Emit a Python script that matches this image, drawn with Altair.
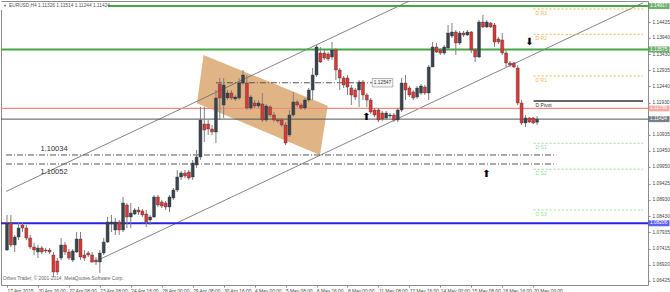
import altair as alt
import pandas as pd

# ---------------- candle data (EURUSD, H4), one entry per bar ----------------
opens = [1.07380,1.08214,1.07535,1.07782,1.08153,1.08060,1.07751,1.07473,1.07318,1.07442,
         1.07380,1.07380,1.07226,1.07040,1.07133,1.07535,1.07318,1.07071,1.07318,1.07720,
         1.07226,1.07287,1.07226,1.07071,1.07009,1.07287,1.07627,1.08183,1.07998,1.08245,
         1.07998,1.08771,1.08400,1.08492,1.08616,1.08585,1.08492,1.08307,1.08400,1.09018,
         1.08863,1.08832,1.08709,1.08987,1.09234,1.09636,1.09759,1.09790,1.09636,1.10007,
         1.10254,1.11273,1.11273,1.11119,1.11026,1.12509,1.11861,1.12077,1.12231,1.12046,
         1.12077,1.12540,1.12540,1.11768,1.11922,1.11830,1.11891,1.11397,1.11799,1.11552,
         1.11397,1.11397,1.11243,1.10934,1.11552,1.11953,1.11861,1.11768,1.12015,1.12324,
         1.12788,1.13467,1.13467,1.13436,1.13344,1.13560,1.12942,1.12695,1.12695,1.12386,
         1.12324,1.12324,1.12571,1.12170,1.12015,1.11706,1.11706,1.11613,1.11459,1.11521,
         1.11552,1.11397,1.11706,1.12540,1.12386,1.12262,1.12108,1.12231,1.12417,1.12231,
         1.13035,1.13653,1.13560,1.13467,1.13622,1.13993,1.14116,1.13776,1.14085,1.14024,
         1.14116,1.13560,1.13344,1.14425,1.14271,1.14394,1.14333,1.13900,1.13869,1.13467,
         1.13158,1.13158,1.13004,1.11922,1.11304,1.11459,1.11459,1.11326]
highs = [1.08462,1.08462,1.07844,1.08214,1.08245,1.08153,1.07844,1.07596,1.07535,1.07504,
         1.07442,1.07442,1.07318,1.07133,1.07751,1.07627,1.07411,1.07411,1.07936,1.07936,
         1.07380,1.07349,1.07318,1.07164,1.07380,1.07751,1.08400,1.08462,1.08369,1.08307,
         1.09018,1.08832,1.08832,1.08678,1.08709,1.08647,1.08616,1.08462,1.09080,1.09080,
         1.08925,1.08894,1.09080,1.09296,1.09852,1.09821,1.09852,1.09852,1.10161,1.10470,
         1.11799,1.11799,1.11397,1.11243,1.12324,1.12695,1.12695,1.12324,1.12324,1.12170,
         1.12695,1.12942,1.12788,1.12170,1.12015,1.12015,1.12231,1.11891,1.11861,1.11644,
         1.11459,1.11459,1.11335,1.11706,1.12262,1.12015,1.11922,1.12077,1.12386,1.13004,
         1.13715,1.13653,1.13560,1.13498,1.13807,1.13622,1.13004,1.12757,1.12788,1.12479,
         1.12386,1.12633,1.12633,1.12231,1.12077,1.11768,1.11768,1.11675,1.11675,1.11613,
         1.11613,1.11768,1.12695,1.12788,1.12448,1.12324,1.12448,1.12509,1.12479,1.13097,
         1.13807,1.13776,1.13622,1.13715,1.14333,1.14394,1.14178,1.14147,1.14147,1.14178,
         1.14147,1.13622,1.14487,1.14642,1.14487,1.14425,1.14394,1.13962,1.14085,1.13560,
         1.13220,1.13189,1.13097,1.12015,1.11552,1.11490,1.11490,1.11514]
lows = [1.07349,1.07473,1.07318,1.07689,1.07936,1.07689,1.07411,1.07226,1.07133,1.07256,
        1.07287,1.07256,1.06546,1.06608,1.07071,1.07226,1.07071,1.07009,1.07287,1.07071,
        1.07040,1.07164,1.06978,1.06917,1.06669,1.07226,1.07596,1.07936,1.07844,1.07844,
        1.07936,1.08060,1.08060,1.08462,1.08462,1.08400,1.08091,1.08153,1.08369,1.08709,
        1.08678,1.08616,1.08554,1.08925,1.09172,1.09543,1.09605,1.09543,1.09543,1.09914,
        1.10161,1.10717,1.10934,1.10934,1.10686,1.11397,1.11459,1.12015,1.12015,1.11984,
        1.12015,1.12479,1.11706,1.11706,1.11768,1.11768,1.11335,1.11335,1.11490,1.11335,
        1.11304,1.11181,1.10625,1.10872,1.11490,1.11799,1.11706,1.11706,1.11953,1.12015,
        1.12726,1.13158,1.13251,1.13220,1.13251,1.12633,1.12324,1.12386,1.12170,1.11861,
        1.12015,1.11799,1.12015,1.11799,1.11582,1.11490,1.11335,1.11366,1.11397,1.11459,
        1.11335,1.11335,1.11644,1.12015,1.12108,1.12015,1.12046,1.12170,1.12170,1.12015,
        1.13035,1.13467,1.13406,1.13406,1.13560,1.13931,1.13406,1.13715,1.13962,1.13993,
        1.13467,1.13189,1.13313,1.14240,1.14240,1.14240,1.13653,1.13745,1.13406,1.13035,
        1.13035,1.13004,1.11861,1.11243,1.11181,1.11304,1.11273,1.11244]
closes = [1.08214,1.07535,1.07782,1.08060,1.08060,1.07751,1.07473,1.07380,1.07442,1.07318,
          1.07349,1.07318,1.06700,1.06700,1.07535,1.07318,1.07133,1.07349,1.07720,1.07164,
          1.07133,1.07226,1.07009,1.07009,1.07287,1.07627,1.08245,1.08245,1.08245,1.07998,
          1.08832,1.08400,1.08523,1.08616,1.08554,1.08462,1.08245,1.08400,1.09018,1.08771,
          1.08740,1.08709,1.09018,1.09234,1.09636,1.09759,1.09667,1.09605,1.10068,1.10254,
          1.11397,1.11088,1.11119,1.11026,1.12077,1.12077,1.12479,1.12231,1.12077,1.12108,
          1.12540,1.12788,1.11768,1.12108,1.11830,1.11922,1.11397,1.11830,1.11552,1.11397,
          1.11366,1.11243,1.10686,1.11552,1.11953,1.11861,1.11768,1.12015,1.12324,1.12788,
          1.13653,1.13189,1.13313,1.13282,1.13560,1.12942,1.12695,1.12479,1.12417,1.12170,
          1.12108,1.12571,1.12170,1.12015,1.11644,1.11552,1.11397,1.11428,1.11613,1.11552,
          1.11397,1.11706,1.12540,1.12324,1.12170,1.12077,1.12386,1.12448,1.12231,1.13035,
          1.13653,1.13498,1.13467,1.13653,1.14085,1.14116,1.13776,1.14085,1.14024,1.14116,
          1.13560,1.13344,1.14425,1.14271,1.14425,1.14271,1.13807,1.13807,1.13467,1.13158,
          1.13097,1.13035,1.11922,1.11304,1.11459,1.11335,1.11304,1.11424]

time_labels = ["17 Apr 2015", "20 Apr 16:00", "22 Apr 08:00", "23 Apr 08:00", "24 Apr 16:00",
               "28 Apr 00:00", "29 Apr 08:00", "30 Apr 16:00", "4 May 00:00", "5 May 08:00",
               "6 May 16:00", "8 May 00:00", "11 May 08:00", "12 May 16:00", "14 May 00:00",
               "15 May 08:00", "18 May 16:00", "20 May 00:00"]
price_ticks = [1.14425, 1.13940, 1.13430, 1.12935, 1.12440, 1.11930, 1.10935, 1.10450,
               1.09950, 1.09425, 1.08930, 1.08430, 1.07935, 1.07415, 1.06920, 1.06425]

# horizontal levels (full width) with their price-scale boxes
level_prices = [1.14917, 1.13575, 1.11755, 1.11424, 1.08206]
level_colors = ["#45a845", "#45a845", "#f28a7e", "#50565c", "#2424e0"]
level_widths = [2, 2, 1.2, 1, 2]
box_colors = ["#2f8f2f", "#2f8f2f", "#f08a80", "#3e4a55", "#1c1cf0"]

# daily pivot levels
pivot_names = ["D R3", "D R2", "D R1", "D Pivot", "D S1", "D S2", "D S3"]
pivot_prices = [1.14827, 1.14045, 1.12757, 1.11985, 1.10678, 1.09875, 1.08618]
pivot_colors = ["#f7b450", "#f7b450", "#f7b450", "#333333", "#93df93", "#93df93", "#93df93"]
pivot_from, pivot_to = 136.1, 164.38

# channel trend lines
chan_id = ["up", "up", "low", "low"]
chan_bar = [-0.254, 104.0, 24.2, 164.38]
chan_price = [1.09188, 1.15074, 1.07104, 1.15018]

# tilted rectangle (flag)
flag_bar = [49.1, 50.8, 80.9, 82.9]
flag_top = [1.11914, 1.13406, 1.11938, 1.11840]
flag_bottom = [1.11914, 1.11829, 1.10317, 1.11840]

# dash-dot horizontal lines
dd_from = [-0.254, -0.254, 54.0]
dd_to = [142.0, 142.0, 94.4]
dd_price = [1.10316, 1.10037, 1.12547]

# text annotations
ann_text = ["1.10034", "1.10052"]
ann_bar = [8.65, 8.65]
ann_price = [1.10501, 1.09790]

arrow_text = ["⬆", "⬇", "⬆"]
arrow_bar = [92.9, 135.0, 123.9]
arrow_price = [1.11490, 1.13817, 1.09728]

# ---------------- build tables ----------------
candles = pd.DataFrame({"i": range(len(opens)), "open": opens, "high": highs,
                        "low": lows, "close": closes})
candles["dir"] = ["bull" if c > o else "bear" for o, c in zip(opens, closes)]

levels = pd.DataFrame({"p": level_prices, "c": level_colors, "w": level_widths,
                       "bc": box_colors, "t": [f"{v:.5f}" for v in level_prices]})
pivots = pd.DataFrame({"name": pivot_names, "p": pivot_prices, "c": pivot_colors,
                       "x1": pivot_from, "x2": pivot_to})
chan = pd.DataFrame({"id": chan_id, "i": chan_bar, "p": chan_price})
flag = pd.DataFrame({"i": flag_bar, "top": flag_top, "bot": flag_bottom})
dd = pd.DataFrame({"x1": dd_from, "x2": dd_to, "p": dd_price})
ann = pd.DataFrame({"t": ann_text, "i": ann_bar, "p": ann_price})
arrows = pd.DataFrame({"t": arrow_text, "i": arrow_bar, "p": arrow_price})
lab = pd.DataFrame({"i": [97.05], "p": [1.12547], "t": ["1.12547"],
                    "x1": [94.4], "x2": [99.7], "y1": [1.12679], "y2": [1.12417]})
one = pd.DataFrame({"a": [0]})

FONT = "Liberation Sans"
xs = alt.Scale(domain=[-0.254, 164.38], nice=False, zero=False)
ys = alt.Scale(domain=[1.06298, 1.15074], nice=False, zero=False)

label_expr = "[" + ",".join(f"'{s}'" for s in time_labels) + "][round(datum.value/8)]"
x_axis = alt.Axis(values=list(range(0, 137, 8)), labelExpr=label_expr, labelAlign="left",
                  labelBaseline="top", labelFontSize=4.8, labelFont=FONT, labelColor="#444",
                  tickSize=2, tickColor="#888", domain=False, grid=False, title=None,
                  labelPadding=1, labelOverlap=False, labelFlush=False, labelBound=False)
y_axis = alt.Axis(orient="right", values=price_ticks, format=".5f", labelFontSize=4.8,
                  labelFont=FONT, labelAlign="left", labelBaseline="middle", labelPadding=2,
                  tickSize=2, tickColor="#888", domain=False, grid=False, title=None,
                  labelColor="#444", labelOverlap=False, labelFlush=False)


def X(f):
    return alt.X(f, scale=xs, axis=x_axis)


def Y(f):
    return alt.Y(f, scale=ys, axis=y_axis)


flag_layer = alt.Chart(flag).mark_area(color="#deb07e", opacity=0.95).encode(
    x=X("i:Q"), y=Y("top:Q"), y2="bot:Q")

dd_layer = alt.Chart(dd).mark_rule(color="#555", strokeWidth=1, strokeDash=[6, 2, 1, 2]).encode(
    x=X("x1:Q"), x2="x2:Q", y=Y("p:Q"))

chan_layer = alt.Chart(chan).mark_line(color="#666", strokeWidth=0.8, clip=True).encode(
    x=X("i:Q"), y=Y("p:Q"), detail="id:N")

level_layer = alt.Chart(levels).mark_rule().encode(
    y=Y("p:Q"), color=alt.Color("c:N", scale=None), strokeWidth=alt.StrokeWidth("w:Q", scale=None))

pivot_rs = alt.Chart(pivots).transform_filter("datum.name != 'D Pivot'").mark_rule(
    strokeWidth=1, strokeDash=[2, 2]).encode(
    x=X("x1:Q"), x2="x2:Q", y=Y("p:Q"), color=alt.Color("c:N", scale=None))
pivot_p = alt.Chart(pivots).transform_filter("datum.name == 'D Pivot'").mark_rule(
    strokeWidth=1.5).encode(
    x=X("x1:Q"), x2="x2:Q", y=Y("p:Q"), color=alt.Color("c:N", scale=None))
pivot_txt = alt.Chart(pivots).mark_text(align="left", baseline="middle", dx=2, dy=4,
                                        fontSize=5, font=FONT).encode(
    x=X("x1:Q"), y=Y("p:Q"), text="name:N", color=alt.Color("c:N", scale=None))

wicks = alt.Chart(candles).mark_rule(color="#808080", strokeWidth=1).encode(
    x=X("i:Q"), y=Y("low:Q"), y2="high:Q")
bodies = alt.Chart(candles).mark_bar(size=3, stroke="#3a3a3a", strokeWidth=0.4).encode(
    x=X("i:Q"), y=Y("open:Q"), y2="close:Q",
    color=alt.Color("dir:N", scale=alt.Scale(domain=["bull", "bear"],
                                             range=["#39434d", "#e03535"]), legend=None))

ann_layer = alt.Chart(ann).mark_text(align="left", baseline="middle", fontSize=7.5,
                                     font=FONT, color="#333").encode(
    x=X("i:Q"), y=Y("p:Q"), text="t:N")
arrow_layer = alt.Chart(arrows).mark_text(baseline="middle", fontSize=10, font="DejaVu Sans",
                                          color="#000").encode(
    x=X("i:Q"), y=Y("p:Q"), text="t:N")

lab_box = alt.Chart(lab).mark_rect(fill="#f4f4f4", stroke="#888", strokeWidth=0.6).encode(
    x=X("x1:Q"), x2="x2:Q", y=Y("y1:Q"), y2="y2:Q")
lab_txt = alt.Chart(lab).mark_text(fontSize=4.8, font=FONT, color="#333", baseline="middle").encode(
    x=X("i:Q"), y=Y("p:Q"), text="t:N")

price_boxes = alt.Chart(levels).mark_tick(orient="horizontal", thickness=6, size=21).encode(
    x=alt.value(658), y=Y("p:Q"), color=alt.Color("bc:N", scale=None))
price_box_txt = alt.Chart(levels).mark_text(align="left", baseline="middle", fontSize=4.8,
                                            font=FONT, color="white").encode(
    x=alt.value(649), y=Y("p:Q"), text="t:N")

title_bg = alt.Chart(one).mark_rect(color="white").encode(
    x=alt.value(0), x2=alt.value(107), y=alt.value(1), y2=alt.value(9))
title_icon = alt.Chart(one).mark_text(fontSize=4, color="#666", baseline="middle").encode(
    x=alt.value(4), y=alt.value(4.5), text=alt.value("▼"))
title_txt = alt.Chart(one).mark_text(align="left", baseline="middle", fontSize=4.8,
                                     font=FONT, color="#555").encode(
    x=alt.value(8), y=alt.value(4.5),
    text=alt.value("EURUSD,H4  1.11326 1.11514 1.11244 1.11424"))
copy_txt = alt.Chart(one).mark_text(align="left", baseline="middle", fontSize=4.8,
                                    font=FONT, color="#666").encode(
    x=alt.value(2), y=alt.value(278),
    text=alt.value("Orbex Trader, © 2001-2014, MetaQuotes Software Corp."))

chart = alt.layer(
    flag_layer, dd_layer, chan_layer, level_layer, pivot_rs, pivot_p, pivot_txt,
    wicks, bodies, ann_layer, arrow_layer, lab_box, lab_txt,
    price_boxes, price_box_txt, title_bg, title_icon, title_txt, copy_txt
).properties(
    width=647, height=284,
    padding={"left": 1, "top": 1, "right": 22, "bottom": 7},
    autosize=alt.AutoSizeParams(type="none"),
    background="white"
).configure_view(stroke="#8c8c8c", strokeWidth=1)

chart.save("out.html", embed_options={"renderer": "svg", "actions": False})
